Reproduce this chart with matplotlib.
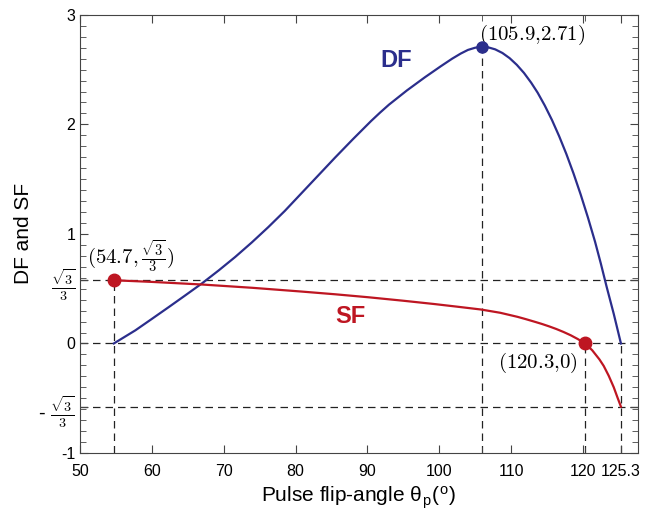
import numpy as np
import matplotlib
matplotlib.use("Agg")
import matplotlib.pyplot as plt
from matplotlib.ticker import MultipleLocator, FixedLocator

plt.rcParams['font.family'] = ['Liberation Sans', 'DejaVu Sans']
plt.rcParams['mathtext.fontset'] = 'cm'

# Data
df_x = [54.7, 57.7, 59.9, 62.3, 64.6, 67.0, 69.3, 71.6, 73.9, 76.2, 78.5, 80.8,
        83.1, 85.5, 88.0, 90.5, 91.75, 93.0, 95.5, 98.0, 100.2, 101.8, 103.0,
        104.0, 105.0, 105.9, 106.8, 107.8, 108.8, 109.8, 110.8, 111.8, 112.8,
        113.7, 114.7, 115.7, 116.7, 117.7, 118.7, 119.7, 120.7, 121.7, 122.5,
        123.3, 124.3, 125.3]
df_y = [0.0, 0.12, 0.22, 0.33, 0.437, 0.55, 0.667, 0.79, 0.922, 1.062, 1.21, 1.37,
        1.53, 1.697, 1.866, 2.03, 2.107, 2.18, 2.31, 2.43, 2.53, 2.60, 2.647,
        2.68, 2.70, 2.71, 2.704, 2.685, 2.652, 2.605, 2.544, 2.47, 2.381,
        2.29, 2.172, 2.04, 1.892, 1.73, 1.552, 1.359, 1.151, 0.928, 0.73,
        0.52, 0.27, 0.0]

sf_x = [54.7, 60.0, 67.0, 74.0, 80.8, 85.5, 90.1, 95.0, 99.3, 102.6, 105.8, 108.5,
        110.9, 112.0, 113.3, 114.3, 115.3, 116.3, 117.3, 118.3, 119.3, 120.3,
        121.3, 122.3, 122.9, 123.6, 124.3, 124.8, 125.3]
sf_y = [0.577, 0.562, 0.538, 0.508, 0.474, 0.449, 0.422, 0.39, 0.36, 0.335, 0.31, 0.28,
        0.243, 0.223, 0.198, 0.178, 0.156, 0.132, 0.105, 0.075, 0.04, 0.0,
        -0.062, -0.145, -0.205, -0.295, -0.40, -0.49, -0.577]

peak = (105.9, 2.71)
sf_start = (54.7, 0.577)
sf_zero = (120.3, 0.0)
df_end = 125.3

xticks = [50, 60, 70, 80, 90, 100, 110, 120, 125.3]
xticklabels = ['50', '60', '70', '80', '90', '100', '110', '120', '125.3']
r3 = 0.57735
yticks = [-1, -r3, 0, r3, 1, 2, 3]
yticklabels = ['-1', r'- $\frac{\sqrt{3}}{3}$', '0', r'$\frac{\sqrt{3}}{3}$', '1', '2', '3']

blue = '#2B2E8C'
red = '#BE1622'

fig = plt.figure(figsize=(6.62, 5.13), dpi=100)
ax = fig.add_axes([0.121, 0.117, 0.843, 0.854])
ax.set_xlim(50, 127.7)
ax.set_ylim(-1, 3)

dash = dict(color='#222222', lw=0.9, ls=(0, (6, 4)), zorder=1)
for yv in [r3, 0, -r3]:
    ax.axhline(yv, **dash)
ax.plot([sf_start[0]] * 2, [-1, sf_start[1]], **dash)
ax.plot([peak[0]] * 2, [-1, peak[1]], **dash)
ax.plot([sf_zero[0]] * 2, [-1, 0], **dash)
ax.plot([df_end] * 2, [-1, 0], **dash)

ax.plot(df_x, df_y, color=blue, lw=1.6, zorder=3, solid_joinstyle='round')
ax.plot(sf_x, sf_y, color=red, lw=1.6, zorder=3, solid_joinstyle='round')
ax.plot([peak[0]], [peak[1]], 'o', color=blue, ms=8, zorder=4)
ax.plot([sf_start[0], sf_zero[0]], [sf_start[1], sf_zero[1]], 'o', color=red, ms=9, zorder=4)

ax.text(94.0, 2.58, 'DF', color=blue, fontsize=17, fontweight='bold', ha='center', va='center')
ax.text(87.6, 0.25, 'SF', color=red, fontsize=17, fontweight='bold', ha='center', va='center')

ax.text(105.5, 2.82, r'$(105.9{,}2.71)$', fontsize=15, ha='left', va='center')
ax.text(51.0, 0.80, r'$(54.7,\frac{\sqrt{3}}{3})$', fontsize=15, ha='left', va='center')
ax.text(119.3, -0.18, r'$(120.3{,}0)$', fontsize=15, ha='right', va='center')

ax.set_xticks(xticks)
ax.set_xticklabels(xticklabels, fontsize=11.5)
ax.xaxis.set_minor_locator(FixedLocator([105.9, 120.3]))
ax.set_yticks(yticks)
ax.set_yticklabels(yticklabels, fontsize=11.5)
for lbl in ax.get_yticklabels():
    if 'sqrt' in lbl.get_text():
        lbl.set_fontsize(14.5)
ax.yaxis.set_minor_locator(MultipleLocator(0.1))
ax.tick_params(which='both', direction='in', top=True, right=True, color='#444444')
ax.tick_params(which='major', length=6)
ax.tick_params(which='minor', length=4)
ax.tick_params(axis='x', pad=8)
for s in ax.spines.values():
    s.set_color('#444444')

ax.set_xlabel(r'Pulse flip-angle θ$_\mathregular{p}$($^\mathregular{o}$)', fontsize=15, labelpad=4)
ax.set_ylabel('DF and SF', fontsize=15, labelpad=4)

fig.savefig('out.png', dpi=100)
